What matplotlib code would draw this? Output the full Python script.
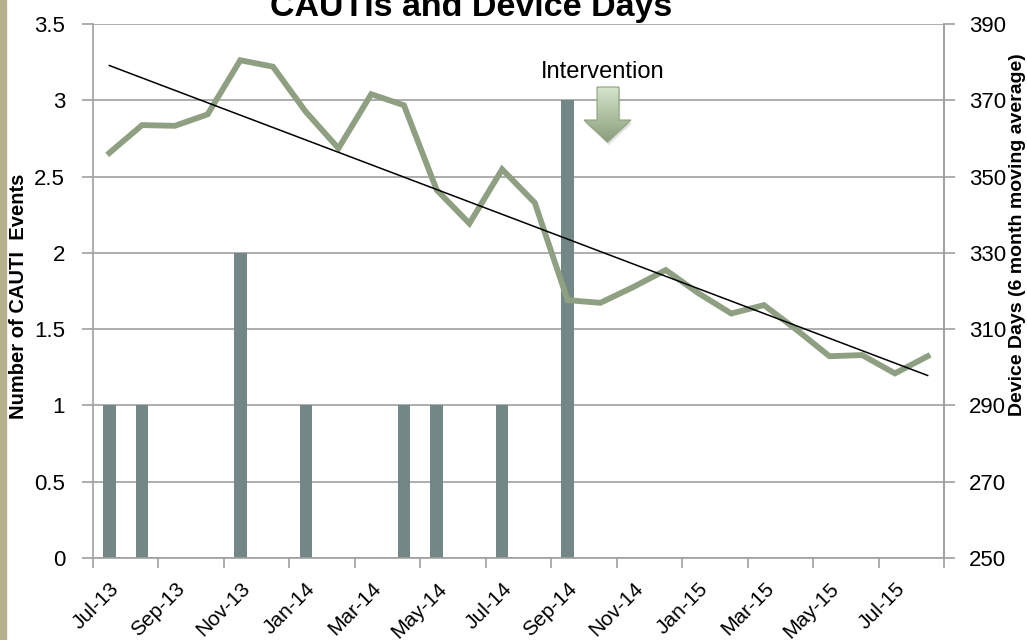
import matplotlib
matplotlib.use('Agg')
import matplotlib.pyplot as plt
import numpy as np
from matplotlib.patches import Polygon, Rectangle
from matplotlib.colors import LinearSegmentedColormap
from matplotlib import font_manager

# fonts: narrow Arial look-alike if present
names = {f.name for f in font_manager.fontManager.ttflist}
narrow = 'Liberation Sans Narrow' if 'Liberation Sans Narrow' in names else 'Liberation Sans'
plt.rcParams['font.family'] = [narrow, 'DejaVu Sans']

months = ['Jul-13', 'Aug-13', 'Sep-13', 'Oct-13', 'Nov-13', 'Dec-13',
          'Jan-14', 'Feb-14', 'Mar-14', 'Apr-14', 'May-14', 'Jun-14',
          'Jul-14', 'Aug-14', 'Sep-14', 'Oct-14', 'Nov-14', 'Dec-14',
          'Jan-15', 'Feb-15', 'Mar-15', 'Apr-15', 'May-15', 'Jun-15',
          'Jul-15', 'Aug-15']
cauti_events = [1, 1, 0, 0, 2, 0, 1, 0, 0, 1, 1, 0, 1, 0, 3, 0,
                0, 0, 0, 0, 0, 0, 0, 0, 0, 0]
device_days = [356.2, 363.5, 363.3, 366.3, 380.5, 378.8, 367.0, 357.4,
               371.6, 368.7, 346.5, 337.7, 351.9, 343.1, 317.6, 316.9,
               321.0, 325.5, 319.4, 314.1, 316.3, 309.8, 302.9, 303.2,
               298.4, 302.9]

W, H = 1027, 640
fig = plt.figure(figsize=(W / 100, H / 100), dpi=100)
ax = fig.add_axes([93 / W, 1 - 558 / H, (944 - 93) / W, (558 - 24) / H])

x = np.arange(len(months))
grid_c = '#a0a0a0'

ax.bar(x, cauti_events, width=0.38, color='#738886', zorder=2)
ax.set_ylim(0, 3.5)
ax.set_yticks(np.arange(0, 3.51, 0.5))
ax.set_yticklabels(['0', '0.5', '1', '1.5', '2', '2.5', '3', '3.5'])
ax.set_xlim(-0.5, len(months) - 0.5)
ax.yaxis.grid(True, color=grid_c, linewidth=1.2, zorder=0)
ax.set_axisbelow(True)

# ticks at month boundaries every 2 months, labels at even months
ax.set_xticks(np.arange(-0.5, len(months), 2))
ax.set_xticklabels([])
ax.set_xticks(x[::2], minor=True)
ax.set_xticklabels(months[::2], minor=True, rotation=45, ha='right',
                   va='top', rotation_mode='anchor', fontsize=15)
ax.tick_params(axis='x', which='minor', length=0, pad=15)
ax.tick_params(axis='x', which='major', length=7, width=1.2, color=grid_c)
ax.tick_params(axis='y', length=8, width=1.2, color=grid_c, pad=12,
               labelsize=16)
for s in ['left', 'bottom', 'right']:
    ax.spines[s].set_color(grid_c)
    ax.spines[s].set_linewidth(1.2)
ax.spines['top'].set_visible(False)

ax2 = ax.twinx()
ax2.plot(x, device_days, color='#8fa082', linewidth=4.2,
         solid_joinstyle='miter', zorder=3)
coef = np.polyfit(x, device_days, 1)
ax2.plot(x, np.polyval(coef, x), color='black', linewidth=1.1, zorder=4)
ax2.set_ylim(250, 390)
ax2.set_yticks(np.arange(250, 391, 20))
ax2.tick_params(axis='y', length=8, width=1.2, color=grid_c, pad=10,
                labelsize=16)
for s in ['left', 'bottom', 'top']:
    ax2.spines[s].set_visible(False)
ax2.spines['right'].set_color(grid_c)
ax2.spines['right'].set_linewidth(1.2)

# overlay in pixel coordinates for decorations
ov = fig.add_axes([0, 0, 1, 1], zorder=10)
ov.set_xlim(0, W)
ov.set_ylim(H, 0)
ov.axis('off')
ov.patch.set_visible(False)

ov.add_patch(Rectangle((0, 0), 6, H, color='#b4b08c'))

ov.text(471, 16, 'CAUTIs and Device Days', ha='center', va='baseline',
        fontsize=24.5, fontweight='bold', family=['Liberation Sans', 'DejaVu Sans'])
ov.text(19, 296, 'Number of CAUTI  Events', rotation=90, ha='center',
        va='center', fontsize=14.5, fontweight='bold')
ov.text(1018, 235, 'Device Days (6 month moving average)', rotation=90,
        ha='center', va='center', fontsize=14, fontweight='bold')
ov.text(603, 72, 'Intervention', ha='center', va='center', fontsize=17)

# block arrow with gradient and soft shadow
arrow = [(597, 87), (619, 87), (619, 120), (631, 120), (607.5, 142),
         (584, 120), (597, 120)]
for k, a in [(4, 0.05), (3, 0.08), (2, 0.12)]:
    ov.add_patch(Polygon([(px + k * 0.4, py + k) for px, py in arrow],
                         closed=True, color='#606060', alpha=a, lw=0))
poly = Polygon(arrow, closed=True, facecolor='none', edgecolor='#8da27e',
               linewidth=0.8, zorder=3)
ov.add_patch(poly)
grad = np.linspace(0, 1, 100)[:, None]
cmap = LinearSegmentedColormap.from_list('g', ['#d5e4cb', '#8a9f7b'])
im = ov.imshow(grad, cmap=cmap, extent=(584, 631, 142, 87), aspect='auto',
               zorder=2)
im.set_clip_path(poly)
ov.set_xlim(0, W)
ov.set_ylim(H, 0)

fig.savefig('out.png', dpi=100)
